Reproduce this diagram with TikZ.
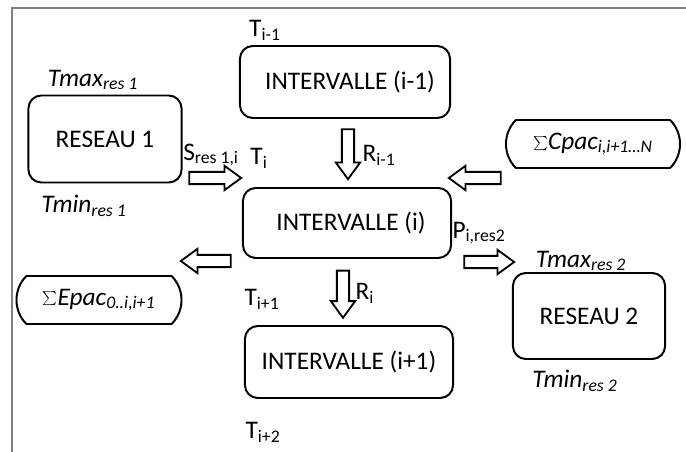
\documentclass[tikz,border=0pt]{standalone}
\usepackage{fontspec}
\setmainfont{Carlito}
\usepackage{tikz}
\usetikzlibrary{positioning, shapes.arrows, shapes.misc}

\tikzset{
    box/.style={draw, line width=1.4pt, rounded corners=0.32cm, inner sep=0pt},
    sumbox/.style={draw, line width=1.4pt, rounded rectangle, rounded rectangle arc length=90, inner sep=0pt},
    barrow/.style={draw, single arrow, line width=1.3pt, inner xsep=0pt, inner ysep=0.13cm,
        single arrow head extend=0.15cm, single arrow tip angle=72, minimum height=1.3cm},
    lbl/.style={inner sep=0pt}
}

\begin{document}
\begin{tikzpicture}[x=0.025cm, y=-0.025cm, font=\fontsize{18}{21}\selectfont]
            \useasboundingbox (0,0) rectangle (686,452);
            \draw [gray, line width=0.8pt] (12,452) -- (12,8) -- (686,8);

            %Boxes
            \node [box, minimum width=5.25cm, minimum height=1.8cm] at (345,82) (Im1) {\hspace{0.25cm}INTERVALLE (i-1)};
            \node [box, minimum width=5.2cm, minimum height=1.75cm] at (347,223) (Ii) {\hspace{0.2cm}INTERVALLE (i)};
            \node [box, minimum width=5.2cm, minimum height=1.8cm] at (349,362) (Ip1) {INTERVALLE (i+1)};
            \node [box, minimum width=3.825cm, minimum height=2.175cm] at (105,139) (R1) {RESEAU 1\hspace{0.2cm}};
            \node [box, minimum width=3.8cm, minimum height=2.15cm] at (589,316) (R2) {RESEAU 2};
            \node [sumbox, minimum width=4.35cm, minimum height=1.2cm] at (593,144) (Cpac) {\textit{$\textstyle\sum$Cpac\textsubscript{i,i+1…N}}};
            \node [sumbox, minimum width=4.125cm, minimum height=1.2cm] at (99,300) (Epac) {\textit{$\textstyle\sum$Epac\textsubscript{0..i,i+1}}};

            %Labels
            \node [lbl] at (265,30) (Tim1) {T\textsubscript{i-1}};
            \node [lbl] at (259,158) (Ti) {T\textsubscript{i}};
            \node [lbl] at (262,299) (Tip1) {T\textsubscript{i+1}};
            \node [lbl] at (263,432) (Tip2) {T\textsubscript{i+2}};
            \node [lbl] at (93,80) (Tmax1) {\textit{Tmax\textsubscript{res 1}}};
            \node [lbl] at (84,206) (Tmin1) {\textit{Tmin\textsubscript{res 1}}};
            \node [lbl] at (581,261) (Tmax2) {\textit{Tmax\textsubscript{res 2}}};
            \node [lbl] at (575,381) (Tmin2) {\textit{Tmin\textsubscript{res 2}}};
            \node [lbl] at (211,155) (S) {S\textsubscript{res 1,i}};
            \node [lbl] at (379,155) (Rim1) {R\textsubscript{i-1}};
            \node [lbl] at (365,293) (Ri) {R\textsubscript{i}};
            \node [lbl] at (479,233) (P) {P\textsubscript{i,res2}};

            %Arrows
            \node [barrow] at (211,178) (aS) {};
            \node [barrow, minimum height=1.25cm, rotate=270] at (348,150) (aRim1) {};
            \node [barrow, rotate=180] at (479,178) (aCpac) {};
            \node [barrow, minimum height=1.25cm, rotate=180] at (210,261) (aEpac) {};
            \node [barrow, minimum height=1.25cm] at (485,262) (aP) {};
            \node [barrow, minimum height=1.18cm, rotate=270] at (343,290) (aRi) {};
        \end{tikzpicture}
\end{document}
